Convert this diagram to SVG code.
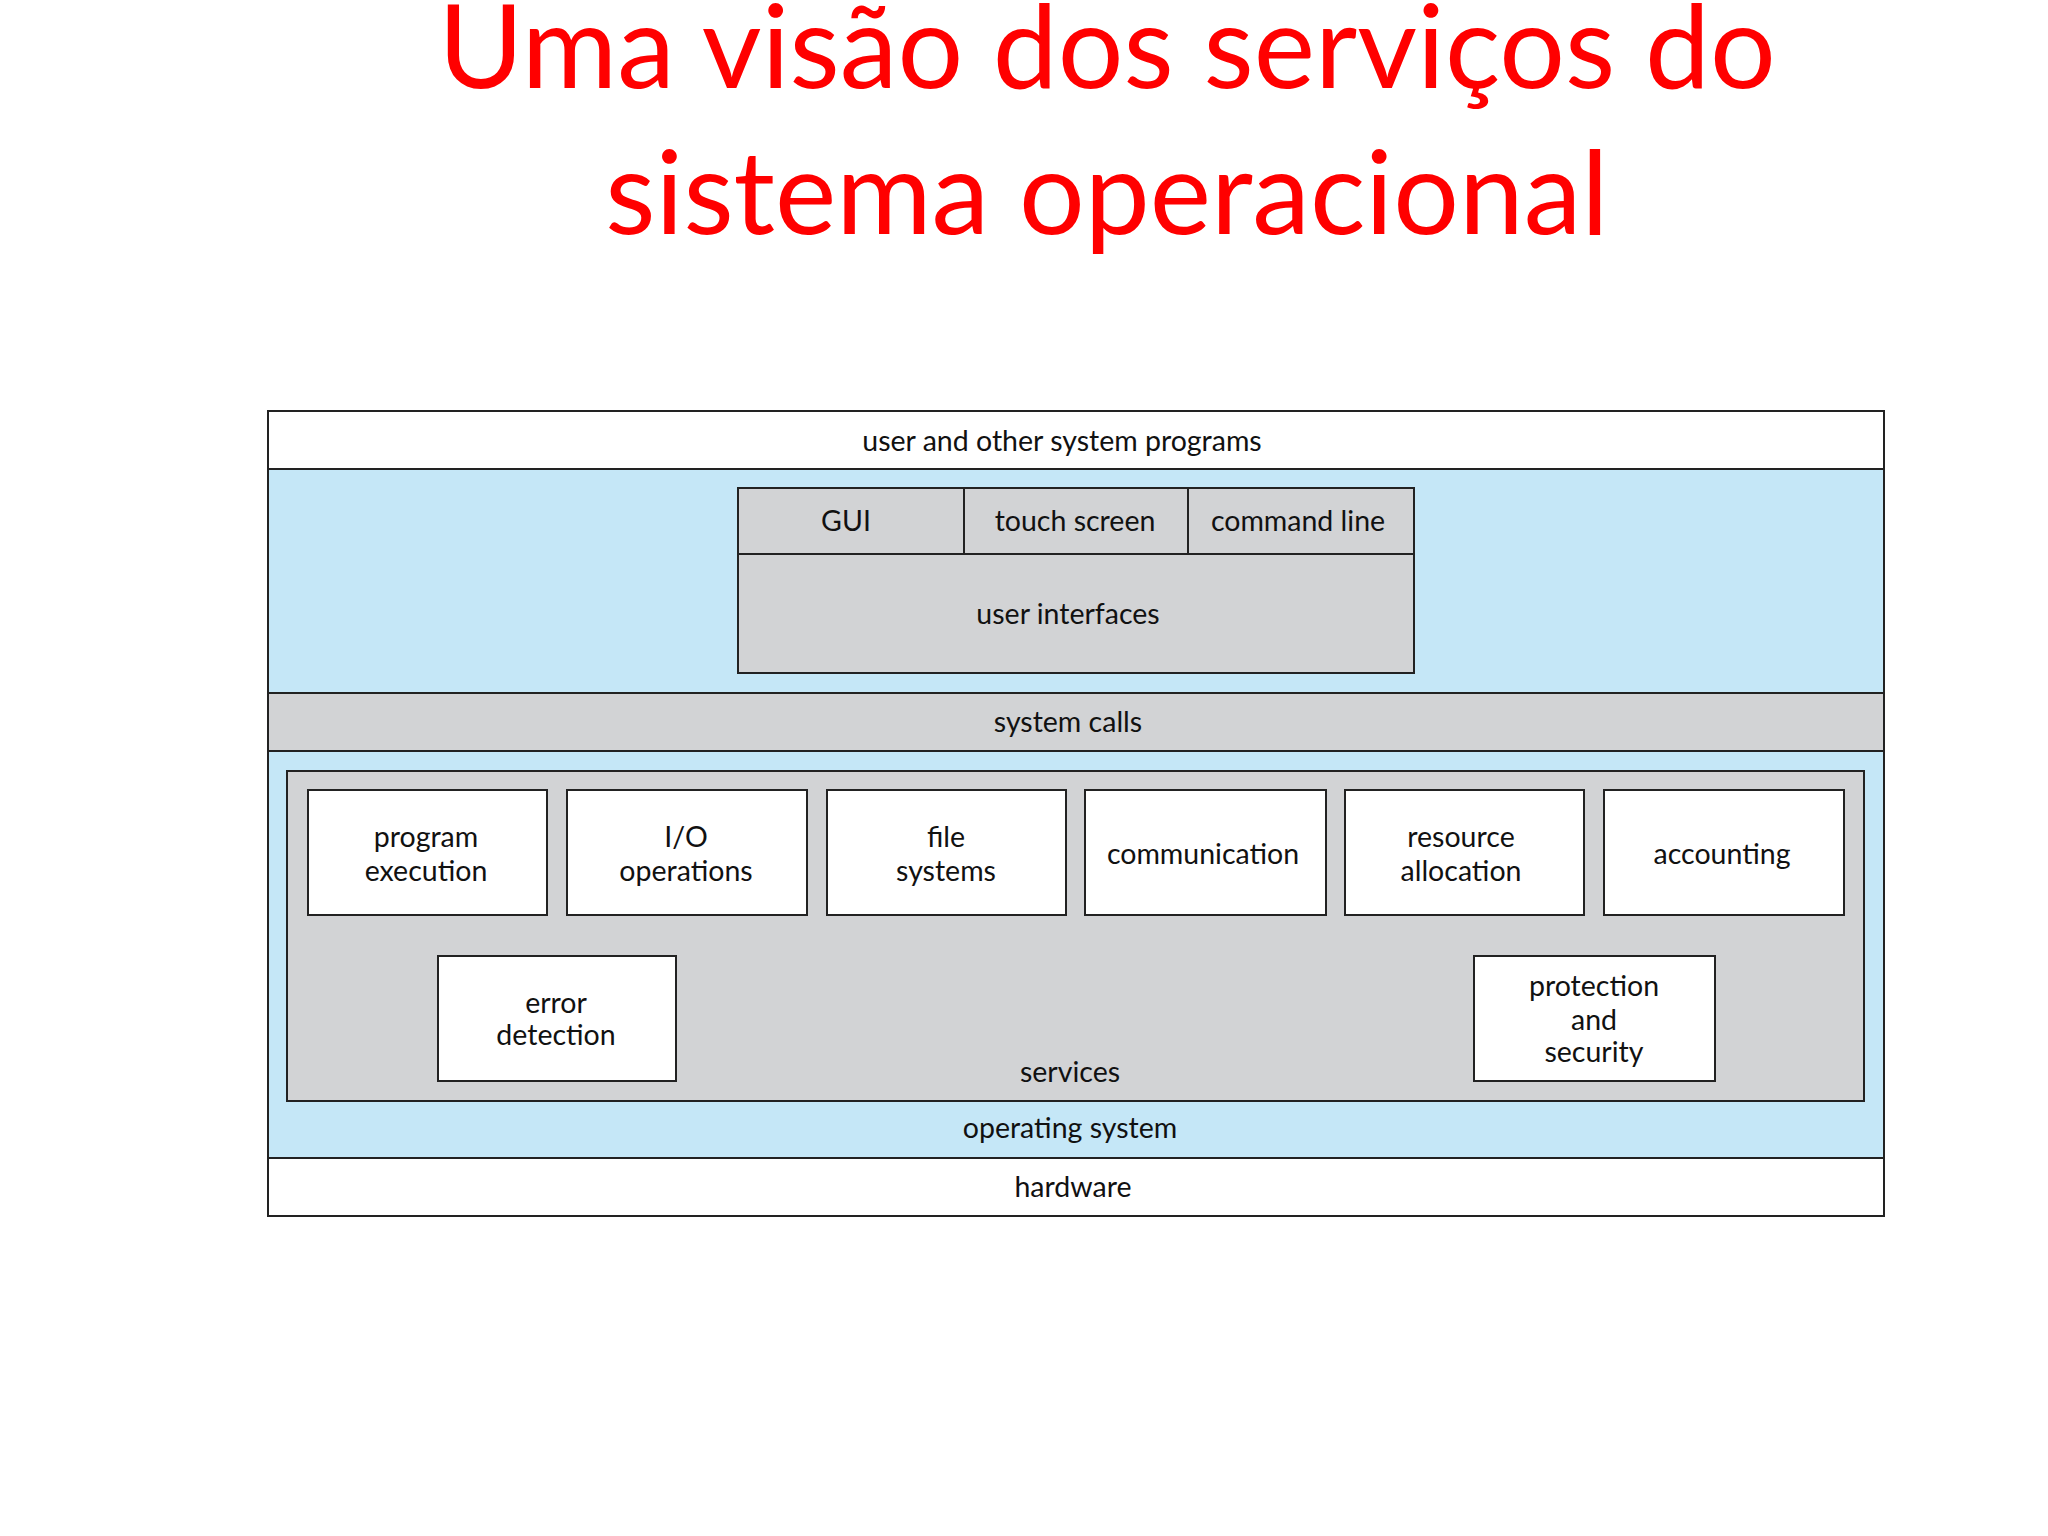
<svg xmlns="http://www.w3.org/2000/svg" width="2048" height="1536" viewBox="0 0 2048 1536">
<style>
.b{stroke:#222;stroke-width:2}
.w{fill:#fff}.g{fill:#d2d3d5}.c{fill:#c5e7f7}
text{font-family:Lato,"Open Sans",sans-serif;font-size:28.5px;fill:#111;text-anchor:middle}
.t{font-size:116px;fill:#f00}
</style>
<rect width="2048" height="1536" fill="#fff"/>
<text class="t" x="1107" y="88">Uma visão dos serviços do</text>
<text class="t" x="1107" y="234">sistema operacional</text>
<g id="user-programs"><rect class="b w" x="268" y="411" width="1616" height="58"/><text x="1062" y="451">user and other system programs</text></g>
<g id="os"><rect class="b c" x="268" y="469" width="1616" height="224"/><rect class="b c" x="268" y="751" width="1616" height="407"/><text x="1070" y="1138">operating system</text></g>
<g id="user-interfaces"><rect class="b g" x="738" y="488" width="676" height="185"/><line class="b" x1="738" y1="554" x2="1414" y2="554"/><line class="b" x1="964" y1="488" x2="964" y2="554"/><line class="b" x1="1188" y1="488" x2="1188" y2="554"/><text x="1068" y="624">user interfaces</text></g>
<g id="gui"><text x="846" y="531">GUI</text></g>
<g id="touch"><text x="1075" y="531">touch screen</text></g>
<g id="cmd"><text x="1298" y="531">command line</text></g>
<g id="system-calls"><rect class="b g" x="268" y="693" width="1616" height="58"/><text x="1068" y="732">system calls</text></g>
<g id="services"><rect class="b g" x="287" y="771" width="1577" height="330"/><text x="1070" y="1082">services</text></g>
<g id="program-execution"><rect class="b w" x="308" y="790" width="239" height="125"/><text x="426" y="847">program</text><text x="426" y="881">execution</text></g>
<g id="io"><rect class="b w" x="567" y="790" width="240" height="125"/><text x="686" y="847">I/O</text><text x="686" y="881">operations</text></g>
<g id="file-systems"><rect class="b w" x="827" y="790" width="239" height="125"/><text x="946" y="847">file</text><text x="946" y="881">systems</text></g>
<g id="communication"><rect class="b w" x="1085" y="790" width="241" height="125"/><text x="1203" y="864">communication</text></g>
<g id="resource-allocation"><rect class="b w" x="1345" y="790" width="239" height="125"/><text x="1461" y="847">resource</text><text x="1461" y="881">allocation</text></g>
<g id="accounting"><rect class="b w" x="1604" y="790" width="240" height="125"/><text x="1722" y="864">accounting</text></g>
<g id="error-detection"><rect class="b w" x="438" y="956" width="238" height="125"/><text x="556" y="1013">error</text><text x="556" y="1045">detection</text></g>
<g id="protection"><rect class="b w" x="1474" y="956" width="241" height="125"/><text x="1594" y="996">protection</text><text x="1594" y="1030">and</text><text x="1594" y="1062">security</text></g>
<g id="hardware"><rect class="b w" x="268" y="1158" width="1616" height="58"/><text x="1073" y="1197">hardware</text></g>
<g id="connectors"/>
</svg>
